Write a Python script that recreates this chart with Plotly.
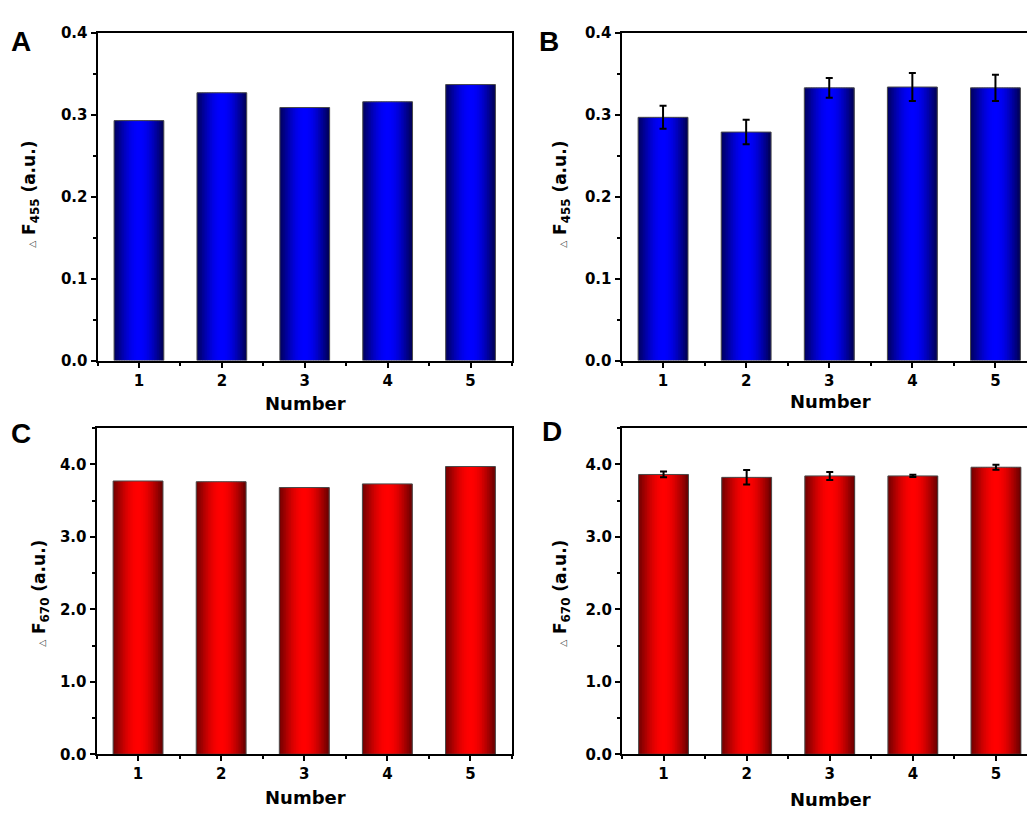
import plotly.graph_objects as go
import numpy as np

# ---------------- data ----------------
numbers = [1, 2, 3, 4, 5]
f455_a = [0.293, 0.327, 0.309, 0.316, 0.337]
f455_b = [0.297, 0.279, 0.333, 0.334, 0.333]
f455_b_err = [0.014, 0.015, 0.012, 0.017, 0.016]
f670_c = [3.77, 3.76, 3.68, 3.73, 3.97]
f670_d = [3.86, 3.82, 3.84, 3.84, 3.96]
f670_d_err = [0.04, 0.10, 0.055, 0.015, 0.035]
panel_labels = ["A", "B", "C", "D"]
x_title = "Number"
y_title_455 = "F<sub>455</sub> (a.u.)"
y_title_670 = "F<sub>670</sub> (a.u.)"

# ---------------- style ----------------
W, H = 1027, 819
BAR_W = 0.6
N_STRIPS = 30
FONT = "DejaVu Sans"

def grad_color(t, dark_l, dark_r, bright):
    p = np.sin(np.pi * t) ** 1.1
    dark = dark_l if t < 0.5 else dark_r
    c = [int(round(d + (b - d) * p)) for d, b in zip(dark, bright)]
    return f"rgb({c[0]},{c[1]},{c[2]})"

BLUE = ((0, 0, 95), (0, 0, 85), (0, 0, 255))
RED = ((115, 0, 0), (105, 0, 0), (255, 0, 0))

fig = go.Figure()

panels = [
    dict(xa="x", ya="y", vals=f455_a, err=None, cols=BLUE),
    dict(xa="x2", ya="y2", vals=f455_b, err=f455_b_err, cols=BLUE),
    dict(xa="x3", ya="y3", vals=f670_c, err=None, cols=RED),
    dict(xa="x4", ya="y4", vals=f670_d, err=f670_d_err, cols=RED),
]

step = BAR_W / N_STRIPS
for p in panels:
    for i in range(N_STRIPS):
        t = (i + 0.5) / N_STRIPS
        off = -BAR_W / 2 + i * step
        w = step + (0.012 if i < N_STRIPS - 1 else 0)
        fig.add_trace(go.Bar(
            x=numbers, y=p["vals"], xaxis=p["xa"], yaxis=p["ya"],
            width=w, offset=off,
            marker=dict(color=grad_color(t, *p["cols"]), line=dict(width=0)),
            showlegend=False, hoverinfo="skip"))
    err = dict(type="data", array=p["err"], visible=True, color="black",
               thickness=2, width=3.5) if p["err"] else None
    fig.add_trace(go.Bar(
        x=numbers, y=p["vals"], xaxis=p["xa"], yaxis=p["ya"],
        width=BAR_W, offset=-BAR_W / 2,
        marker=dict(color="rgba(0,0,0,0)", line=dict(color="#4a4a4a", width=1)),
        error_y=err, showlegend=False))

tickfont = dict(family=FONT, size=15, color="black", weight="bold")

def xaxis(domain, rng, anchor):
    return dict(domain=domain, range=rng, anchor=anchor,
                tickvals=numbers, ticks="outside", ticklen=5, tickwidth=2,
                tickcolor="black", tickfont=tickfont,
                minor=dict(tickvals=[0.5, 1.5, 2.5, 3.5, 4.5, 5.5], ticks="outside",
                           ticklen=3, tickwidth=2, tickcolor="black"),
                showline=True, linecolor="black", linewidth=2, mirror=True,
                showgrid=False, zeroline=False, fixedrange=True)

def yaxis(domain, rng, dt, anchor, mirror):
    return dict(domain=domain, range=rng, anchor=anchor, dtick=dt, tick0=0,
                tickformat=".1f", ticks="outside", ticklen=5, tickwidth=2,
                tickcolor="black", tickfont=tickfont,
                minor=dict(dtick=dt / 2, ticks="outside", ticklen=3, tickwidth=2,
                           tickcolor="black"),
                showline=True, linecolor="black", linewidth=2, mirror=mirror,
                showgrid=False, zeroline=False, fixedrange=True)

xa_dom = [97.5 / W, 512 / W]
xb_dom = [621.5 / W, 1.0]
xc_dom = [96.5 / W, 512 / W]
xd_dom = [622 / W, 1.0]
ytop_dom = [1 - 359.5 / H, 1 - 24.5 / H]
ybot_dom = [1 - 762 / H, 1 - 428.5 / H]
rb_end = 0.5 + (W - 621.5) / 83.1
rd_end = 0.5 + (W - 622) / 83.1

fig.update_layout(
    width=W, height=H, margin=dict(l=0, r=0, t=0, b=0),
    paper_bgcolor="white", plot_bgcolor="white", barmode="overlay",
    xaxis=xaxis(xa_dom, [0.5, 5.5], "y"),
    yaxis=yaxis(ytop_dom, [0, 0.4], 0.1, "x", True),
    xaxis2=xaxis(xb_dom, [0.5, rb_end], "y2"),
    yaxis2=yaxis(ytop_dom, [0, 0.4], 0.1, "x2", False),
    xaxis3=xaxis(xc_dom, [0.5, 5.5], "y3"),
    yaxis3=yaxis(ybot_dom, [0, 4.5], 1.0, "x3", True),
    xaxis4=xaxis(xd_dom, [0.5, rd_end], "y4"),
    yaxis4=yaxis(ybot_dom, [0, 4.5], 1.0, "x4", False),
)

ann = []
def A(x, y, text, size, angle=0, family=FONT, weight="bold"):
    ann.append(dict(x=x / W, y=1 - y / H, xref="paper", yref="paper",
                    text=text, showarrow=False, textangle=angle,
                    xanchor="center", yanchor="middle",
                    font=dict(family=family, size=size, color="black", weight=weight)))

tri = "<span style='font-size:9px;font-weight:normal;color:#333'>\u25b3</span> "
# panel letters
A(21, 33, panel_labels[0], 28, family="Liberation Sans")
A(549, 33, panel_labels[1], 28, family="Liberation Sans")
A(21, 434, panel_labels[2], 28, family="Liberation Sans")
A(552, 432, panel_labels[3], 28, family="Liberation Sans")
# y titles
A(31, 190, tri + y_title_455, 17, -90)
A(562, 190, tri + y_title_455, 17, -90)
A(41, 598, tri + y_title_670, 17, -90)
A(562, 598, tri + y_title_670, 17, -90)
# x titles
A(305, 403, x_title, 18)
A(830, 401, x_title, 18)
A(305, 806, x_title, 18)
A(830, 808, x_title, 18)
fig.update_layout(annotations=ann)

fig.write_html("out.html")
